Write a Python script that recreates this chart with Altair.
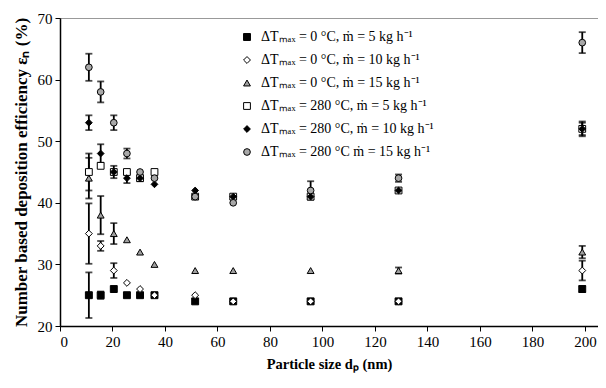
import altair as alt
import pandas as pd

# ---- data ----
dp = [11, 15.5, 20.5, 25.5, 30.5, 36, 51.5, 66, 95.5, 129, 199]

series = [
    "ΔTₘₐₓ = 0 °C, ṁ = 5 kg h⁻¹",
    "ΔTₘₐₓ = 0 °C, ṁ = 10 kg h⁻¹",
    "ΔTₘₐₓ = 0 °C, ṁ = 15 kg h⁻¹",
    "ΔTₘₐₓ = 280 °C, ṁ = 5 kg h⁻¹",
    "ΔTₘₐₓ = 280 °C, ṁ = 10 kg h⁻¹",
    "ΔTₘₐₓ = 280 °C ṁ = 15 kg h⁻¹",
]

s1 = [25, 25, 26, 25, 25, 25, 24, 24, 24, 24, 26]
e1 = [3.7, 0.6, 0, 0, 0, 0, 0, 0, 0, 0, 0.5]
s2 = [35, 33, 29, 27, 26, 25, 25, 24, 24, 24, 29]
e2 = [4.9, 0.8, 1.2, 0, 0, 0, 0, 0, 0, 0, 1.6]
s3 = [44, 38, 35, 34, 32, 30, 29, 29, 29, 29, 32]
e3 = [3.3, 3.1, 1.7, 0, 0, 0, 0, 0, 0, 0.5, 1.0]
s4 = [45, 46, 45, 45, 44, 45, 41, 41, 41, 42, 52]
e4 = [3.0, 0, 0, 0, 0, 0, 0, 0, 0, 0, 1.0]
s5 = [53, 48, 45, 44, 44, 43, 42, 41, 41, 42, 52]
e5 = [1.2, 1.5, 1.0, 0.8, 0.5, 0, 0, 0, 0, 0, 1.2]
s6 = [62, 58, 53, 48, 45, 44, 41, 40, 42, 44, 66]
e6 = [2.2, 1.7, 1.2, 0.8, 0, 0, 0, 0, 1.5, 0.6, 1.7]

values = [s1, s2, s3, s4, s5, s6]
errors = [e1, e2, e3, e4, e5, e6]

fills = ["black", "white", "#a0a0a0", "white", "black", "#a8a8a8"]
strokes = ["black"] * 6
shapes = ["square", "diamond", "triangle-up", "square", "diamond", "circle"]
sizes = [48, 45, 62, 72, 45, 18]

x_ticks = [0, 20, 40, 60, 80, 100, 120, 140, 160, 180, 200]
y_ticks = [20, 25, 30, 35, 40, 45, 50, 55, 60, 65, 70]

# ---- tables ----
pts, errs = [], []
for i, (name, ys, es) in enumerate(zip(series, values, errors)):
    for x, y, e in zip(dp, ys, es):
        pts.append({"series": name, "order": i, "dp": x, "eff": y})
        if e > 0:
            errs.append({"series": name, "dp": x, "lo": y - e, "hi": y + e})
pts = pd.DataFrame(pts)
errs = pd.DataFrame(errs)

serif = "Liberation Serif"

xs = alt.Scale(domain=[0, 205], nice=False, zero=False)
ys_ = alt.Scale(domain=[20, 70], nice=False, zero=False)

x_axis = alt.Axis(values=x_ticks, title="Particle size dₚ (nm)", titlePadding=8,
                  titleFontSize=14.5)
y_axis = alt.Axis(values=y_ticks, title="Number based deposition efficiency εₙ (%)",
                  titlePadding=7, titleFontSize=17)

rules = alt.Chart(errs).mark_rule(color="black", strokeWidth=1.8).encode(
    x=alt.X("dp:Q", scale=xs, axis=x_axis),
    y=alt.Y("lo:Q", scale=ys_, axis=y_axis),
    y2="hi:Q",
)
cap_lo = alt.Chart(errs).mark_tick(color="black", thickness=1.8, size=7, orient="horizontal").encode(
    x=alt.X("dp:Q", scale=xs), y=alt.Y("lo:Q", scale=ys_)
)
cap_hi = alt.Chart(errs).mark_tick(color="black", thickness=1.8, size=7, orient="horizontal").encode(
    x=alt.X("dp:Q", scale=xs), y=alt.Y("hi:Q", scale=ys_)
)

legend = alt.Legend(
    title=None, orient="none", legendX=180, legendY=12,
    labelFont=serif, labelFontSize=14, labelColor="black", labelLimit=400,
    rowPadding=9, symbolStrokeWidth=1, padding=0, labelOffset=7,
)

points = alt.Chart(pts).mark_point(filled=True, strokeWidth=1, opacity=1).encode(
    x=alt.X("dp:Q", scale=xs),
    y=alt.Y("eff:Q", scale=ys_),
    fill=alt.Fill("series:N", scale=alt.Scale(domain=series, range=fills), legend=legend),
    stroke=alt.Stroke("series:N", scale=alt.Scale(domain=series, range=strokes), legend=legend),
    shape=alt.Shape("series:N", scale=alt.Scale(domain=series, range=shapes), legend=legend),
    size=alt.Size("series:N", scale=alt.Scale(domain=series, range=sizes), legend=legend),
    order=alt.Order("order:Q"),
)

chart = (
    alt.layer(rules, cap_lo, cap_hi, points)
    .properties(width=538, height=308, padding={"left": 52, "top": 10, "right": 0, "bottom": 62},
                autosize=alt.AutoSizeParams(type="none"))
    .configure(font=serif)
    .configure_view(stroke="#999999", strokeWidth=1)
    .configure_legend(labelFont=serif)
    .configure_axis(
        grid=False, labelFont=serif, labelFontSize=15, labelColor="black",
        titleFont=serif, titleFontWeight="bold", titleColor="black",
        domainColor="black", domainWidth=1.5, tickColor="black", tickSize=5, tickWidth=1,
        labelPadding=3,
    )
)

chart.save("out.html", embed_options={"renderer": "svg", "actions": False})
